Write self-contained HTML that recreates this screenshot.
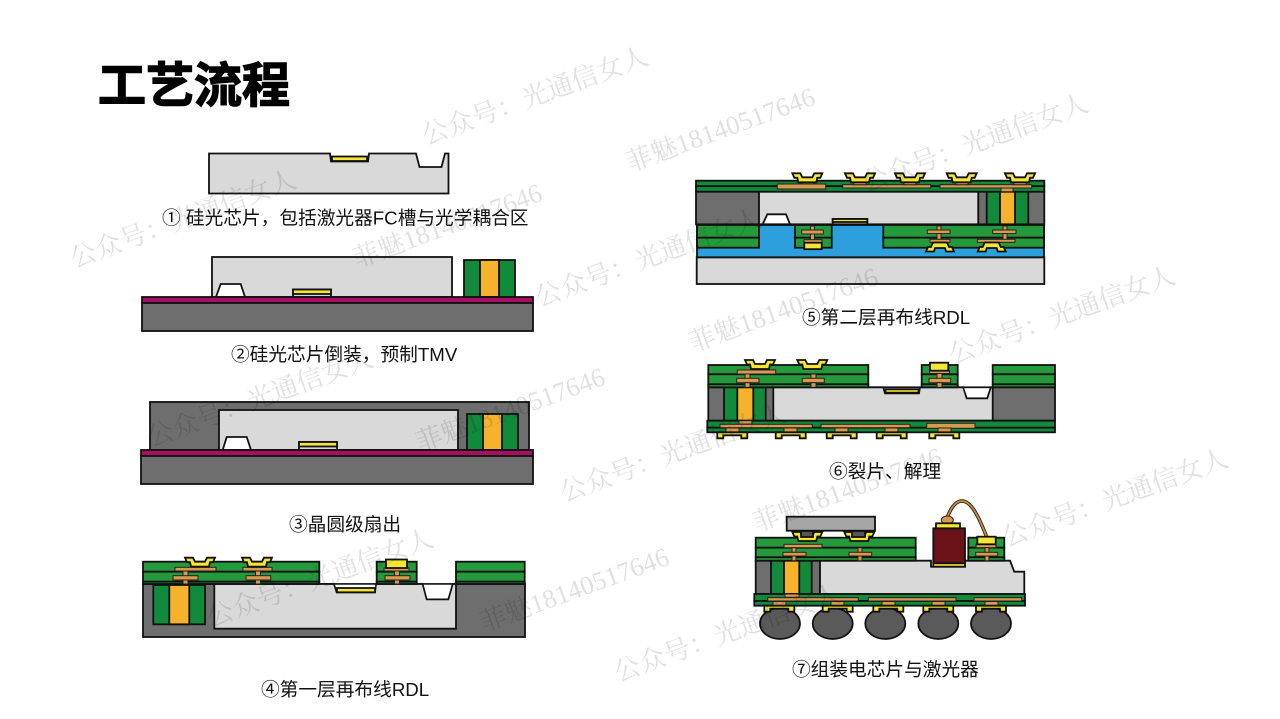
<!DOCTYPE html>
<html lang="zh"><head><meta charset="utf-8"><title>工艺流程</title>
<style>
html,body{margin:0;padding:0;background:#fff;width:1280px;height:719px;overflow:hidden}
svg{display:block}
.l{font-family:"Liberation Sans","Noto Sans CJK SC",sans-serif;font-size:18.7px;fill:#111}
.l tspan{font-size:18.7px}
.t{font-family:"Noto Sans CJK SC","Liberation Sans",sans-serif;font-size:48px;font-weight:700;fill:#000;stroke:#000;stroke-width:1.4px}
.w{font-family:"Liberation Serif","Noto Serif CJK SC",serif;font-size:26.5px;fill:#000;fill-opacity:.12}
.k{stroke:#111;stroke-width:1.8;stroke-linejoin:miter}
.chip{fill:#d9d9d9}.mold{fill:#6e6e6e}.gr{fill:#259a3c}.tg{fill:#118a3c}.au{fill:#f7b22d}.pk{fill:#a80f62}.ye{fill:#f5e632}.or{fill:#d89a4c;stroke:#222;stroke-width:1}.bl{fill:#2c9fdc}
</style></head><body>
<svg width="1280" height="719" viewBox="0 0 1280 719" xmlns="http://www.w3.org/2000/svg">
<defs>
<g id="u"><path class="ye k" d="M-15 0H-7L-5 4H5L7 0H15L13 4.5H10L9 9H-9L-10 4.5H-13Z"/></g>
<g id="d"><path class="ye k" d="M-7 0H7L9 4.5H12L14 9H6L5 5.5H-5L-6 9H-14L-12 4.5H-9Z"/></g>
<g id="dn"><path class="ye k" d="M-15 0H15V6H9V3H-9V6H-15Z"/></g>
</defs>

<rect width="1280" height="719" fill="#fff"/>

<!-- diagram 1 -->
<path class="chip k" d="M209 153.5H330L331 161.5H368L369 153.5H416L419.5 167H441.5L445 153.5H448.5V193.5H209Z"/>
<rect class="ye k" x="332" y="156.5" width="35" height="4.5"/>

<!-- diagram 2 -->
<rect class="chip k" x="212" y="257" width="240" height="40"/>
<path fill="#fff" class="k" d="M216 297L220.7 284H240.7L245 297Z"/>
<rect class="chip k" x="293" y="289.5" width="38" height="7.5"/>
<rect class="ye k" x="293" y="289.5" width="38" height="4.5"/>
<rect class="tg k" x="464" y="260" width="51" height="37"/>
<rect class="au k" x="480" y="260" width="19" height="37"/>
<rect class="pk k" x="142" y="297" width="391" height="6"/>
<rect class="mold k" x="142" y="303" width="391" height="28"/>

<!-- diagram 3 -->
<rect class="mold k" x="150" y="402" width="379" height="48"/>
<rect class="chip k" x="219" y="410" width="239" height="40"/>
<path fill="#fff" class="k" d="M222.7 450L226.7 437H246.7L251 450Z"/>
<rect class="chip k" x="299" y="442" width="38" height="8"/>
<rect class="ye k" x="299" y="442" width="38" height="4.5"/>
<rect class="tg k" x="467" y="414" width="51" height="36"/>
<rect class="au k" x="483" y="414" width="19" height="36"/>
<rect class="pk k" x="141" y="450" width="392" height="6"/>
<rect class="mold k" x="141" y="456" width="392" height="28"/>

<!-- diagram 4 -->
<rect class="mold k" x="143" y="584" width="382" height="53"/>
<path class="chip k" d="M214.3 584H334L336.7 592.3H375L376 584H422.7L426.7 599.3H448.3L452.7 584H456V628.7H214.3Z"/>
<path fill="#fff" d="M335 584.8L337.5 591.5H374.5L375.3 584.8Z"/>
<path fill="#fff" d="M423.7 584.8L427.4 598.5H447.6L451.6 584.8Z"/>
<rect class="ye k" x="337" y="588" width="38" height="4.3"/>
<rect class="tg k" x="153.3" y="585" width="51.7" height="39.3"/>
<rect class="au k" x="169.3" y="585" width="20" height="39.3"/>
<rect class="gr k" x="143" y="561.7" width="176.3" height="10"/><rect class="gr k" x="143" y="571.7" width="176.3" height="10"/><rect class="gr k" x="143" y="581.7" width="176.3" height="2.3"/>
<rect class="gr k" x="376.7" y="561.7" width="40" height="10"/><rect class="gr k" x="376.7" y="571.7" width="40" height="10"/><rect class="gr k" x="376.7" y="581.7" width="40" height="2.3"/>
<rect class="gr k" x="456" y="561.7" width="68.7" height="10"/><rect class="gr k" x="456" y="571.7" width="68.7" height="10"/><rect class="gr k" x="456" y="581.7" width="68.7" height="2.3"/>
<rect class="or" x="175" y="567.3" width="41" height="3.7"/><rect class="or" x="183" y="571" width="5" height="5"/><rect class="or" x="173" y="575.7" width="25" height="4.3"/><rect class="or" x="183" y="580" width="5" height="4"/>
<rect class="or" x="243" y="567.3" width="29" height="3.7"/><rect class="or" x="255.5" y="571" width="5" height="5"/><rect class="or" x="246" y="575.7" width="24.7" height="4.3"/><rect class="or" x="255.5" y="580" width="5" height="4"/>
<rect class="or" x="384" y="568" width="25" height="3"/><rect class="or" x="394.5" y="571" width="5" height="5"/><rect class="or" x="385" y="575.7" width="25" height="4.3"/><rect class="or" x="394.5" y="580" width="5" height="4"/>
<use href="#u" x="200" y="557.7"/><use href="#u" x="257" y="557.7"/>
<rect class="ye k" x="386" y="559.5" width="21" height="8.5"/>

<!-- diagram 5 -->
<rect class="chip k" x="696.7" y="257.3" width="347.6" height="26.7"/>
<rect class="bl k" x="697" y="225" width="347" height="32.3"/>
<rect class="gr k" x="697" y="225" width="62" height="12.7"/><rect class="gr k" x="697" y="237.7" width="62" height="10"/>
<rect class="gr k" x="795" y="225" width="36.7" height="12.7"/><rect class="gr k" x="795" y="237.7" width="36.7" height="10"/>
<rect class="gr k" x="883.3" y="225" width="160.7" height="12.7"/><rect class="gr k" x="883.3" y="237.7" width="160.7" height="10"/>
<rect class="mold k" x="696" y="191.7" width="63" height="32.6"/>
<rect class="chip k" x="759" y="191.7" width="219.3" height="32.6"/>
<rect class="mold k" x="978.3" y="191.7" width="66" height="32.6"/>
<rect class="tg k" x="986.7" y="191.7" width="41.6" height="32.6"/>
<rect class="au k" x="1000" y="191.7" width="15" height="32.6"/>
<rect class="tg k" x="696" y="180.7" width="348.3" height="5.5"/><rect class="tg k" x="696" y="186.2" width="348.3" height="5.5"/>
<path fill="#fff" class="k" d="M762.7 224.3L767.3 214.3H786L790 224.3Z"/>
<rect class="chip k" x="832.7" y="219" width="34.6" height="5.3"/><rect class="ye k" x="832.7" y="219" width="34.6" height="3"/>
<rect class="or" x="777.3" y="184" width="48.4" height="5"/><rect class="or" x="842.7" y="184.7" width="88" height="3.3"/><rect class="or" x="940" y="184.7" width="91.7" height="3.3"/>
<rect class="or" x="1001" y="188" width="12" height="3.7"/>
<rect class="or" x="802" y="180.5" width="12" height="3.5"/><rect class="or" x="854" y="180.5" width="12" height="4.2"/><rect class="or" x="904" y="180.5" width="12" height="4.2"/><rect class="or" x="956" y="180.5" width="12" height="4.2"/><rect class="or" x="1014" y="180.5" width="12" height="4.2"/>
<use href="#u" x="807.3" y="173.3"/><use href="#u" x="860" y="173.3"/><use href="#u" x="910" y="173.3"/><use href="#u" x="961.7" y="173.3"/><use href="#u" x="1020" y="173.3"/>
<rect class="or" x="801.7" y="230" width="21.6" height="4"/><rect class="or" x="810.5" y="226" width="4" height="4"/><rect class="or" x="810.5" y="234" width="4" height="6"/><rect class="or" x="804" y="239.7" width="18" height="3"/>
<rect class="ye k" x="804.3" y="242.7" width="17.4" height="6.5"/>
<rect class="or" x="927.3" y="230" width="22.7" height="3.6"/><rect class="or" x="937" y="226" width="4" height="4"/><rect class="or" x="937" y="233.6" width="4" height="6"/><rect class="or" x="930" y="239.3" width="20" height="3"/>
<rect class="or" x="992.7" y="230" width="23.3" height="3.6"/><rect class="or" x="1003" y="226" width="4" height="4"/><rect class="or" x="1003" y="233.6" width="4" height="6"/><rect class="or" x="977.3" y="239.3" width="37.7" height="3"/>
<use href="#d" x="940" y="242.5"/><use href="#d" x="991.7" y="242.5"/>

<!-- diagram 6 -->
<rect class="mold k" x="708.3" y="387.3" width="346.7" height="33.4"/>
<path class="chip k" d="M773.3 387.3H883.3L885 393.3H919L920 387.3H963.3L966.7 398.3H987.3L990.7 387.3H992.7V420.7H773.3Z"/>
<path fill="#fff" d="M884.2 388.2L885.7 392.4H918.2L919 388.2Z"/>
<path fill="#fff" d="M964.2 388.2L967.4 397.4H986.6L989.6 388.2Z"/>
<rect class="ye k" x="885.5" y="389.3" width="33" height="3.4"/>
<rect class="tg k" x="724" y="387.3" width="41.7" height="33.4"/><rect class="au k" x="737.3" y="387.3" width="16" height="33.4"/>
<rect class="gr k" x="708.3" y="365" width="160" height="9.3"/><rect class="gr k" x="708.3" y="374.3" width="160" height="10"/><rect class="gr k" x="708.3" y="384.3" width="160" height="3"/>
<rect class="gr k" x="921.7" y="365" width="36" height="9.3"/><rect class="gr k" x="921.7" y="374.3" width="36" height="10"/><rect class="gr k" x="921.7" y="384.3" width="36" height="3"/>
<rect class="gr k" x="992.7" y="365" width="62.3" height="9.3"/><rect class="gr k" x="992.7" y="374.3" width="62.3" height="10"/><rect class="gr k" x="992.7" y="384.3" width="62.3" height="3"/>
<rect class="tg k" x="707.3" y="420.7" width="347.7" height="7"/><rect class="tg k" x="707.3" y="427.7" width="347.7" height="4.6"/>
<rect class="or" x="739" y="420.7" width="13" height="3.3"/>
<rect class="or" x="720" y="424.3" width="92.3" height="3.4"/><rect class="or" x="821" y="424.3" width="89" height="3.4"/><rect class="or" x="926.7" y="423.3" width="48.3" height="5"/>
<rect class="or" x="726" y="428" width="13" height="4"/><rect class="or" x="784" y="428" width="13" height="4"/><rect class="or" x="835" y="428" width="13" height="4"/><rect class="or" x="885" y="428" width="13" height="4"/><rect class="or" x="938" y="428" width="13" height="4"/>
<use href="#dn" x="732.3" y="432.3"/><use href="#dn" x="790.7" y="432.3"/><use href="#dn" x="841.7" y="432.3"/><use href="#dn" x="891.7" y="432.3"/><use href="#dn" x="944.3" y="432.3"/>
<rect class="or" x="737.3" y="370" width="38.4" height="4"/><rect class="or" x="745" y="374" width="5" height="4.5"/><rect class="or" x="736.7" y="378.3" width="22.3" height="4.4"/><rect class="or" x="745" y="382.7" width="5" height="4.6"/>
<rect class="or" x="811" y="374" width="5" height="4.5"/><rect class="or" x="802.3" y="378.3" width="22" height="4.4"/><rect class="or" x="811" y="382.7" width="5" height="4.6"/>
<rect class="or" x="929.5" y="370.7" width="20" height="2.8"/><rect class="or" x="937" y="373.5" width="5" height="5"/><rect class="or" x="929" y="378.3" width="21.7" height="4.4"/><rect class="or" x="937" y="382.7" width="5" height="4.6"/>
<use href="#u" x="760" y="360"/><use href="#u" x="812.3" y="360"/>
<rect class="ye k" x="930" y="362.7" width="18.3" height="8"/>

<!-- diagram 7 -->
<path d="M947 518C950 510 955 501 962 501C972 501 980 520 986.7 537" fill="none" stroke="#222" stroke-width="3.6"/>
<path d="M947 518C950 510 955 501 962 501C972 501 980 520 986.7 537" fill="none" stroke="#c98b3e" stroke-width="1.8"/>
<ellipse cx="947.3" cy="520" rx="6" ry="4" fill="#d89a4c" stroke="#222" stroke-width="1"/>
<rect x="786.7" y="516.7" width="88.3" height="14" fill="#a6a6a6" class="k"/>
<rect class="mold k" x="755.7" y="560.7" width="64.3" height="33.3"/>
<rect class="tg k" x="771" y="560.7" width="40.7" height="33.3"/><rect class="au k" x="784" y="560.7" width="15.3" height="33.3"/>
<path class="chip k" d="M820 560.7H931V566.7H965V560.7H1010L1014.3 571.7H1024.3V594H820Z"/>
<rect class="gr k" x="755.7" y="537.7" width="160" height="10"/><rect class="gr k" x="755.7" y="547.7" width="160" height="9.6"/><rect class="gr k" x="755.7" y="557.3" width="160" height="3.4"/>
<rect class="gr k" x="968.3" y="537.7" width="36" height="10"/><rect class="gr k" x="968.3" y="547.7" width="36" height="9.6"/><rect class="gr k" x="968.3" y="557.3" width="36" height="3.4"/>
<rect x="933.3" y="528.3" width="31.7" height="35" fill="#6b1219" class="k"/>
<rect class="ye k" x="936" y="523.3" width="24" height="5"/>
<rect class="ye k" x="933.3" y="563.3" width="31.7" height="3.4"/>
<rect class="or" x="784" y="544.3" width="38" height="3.4"/><rect class="or" x="792" y="547.7" width="4" height="4.6"/><rect class="or" x="783" y="552.3" width="23" height="3.7"/><rect class="or" x="792" y="556" width="4" height="4.7"/>
<rect class="or" x="858" y="547.7" width="4" height="4.6"/><rect class="or" x="849" y="552.3" width="22.7" height="3.7"/><rect class="or" x="858" y="556" width="4" height="4.7"/>
<rect class="or" x="976" y="544.3" width="20" height="3.4"/><rect class="or" x="985" y="547.7" width="4" height="4.6"/><rect class="or" x="975.7" y="552.3" width="22" height="3.7"/><rect class="or" x="985" y="556" width="4" height="4.7"/>
<use href="#u" x="807.3" y="532"/><use href="#u" x="859.3" y="532"/>
<rect x="801" y="531" width="12" height="6" fill="#555" class="k"/><rect x="852" y="531" width="13" height="6" fill="#555" class="k"/>
<rect class="ye k" x="977.3" y="536.7" width="18.4" height="7.6"/>
<rect class="tg k" x="754.3" y="594" width="270.7" height="7"/><rect class="tg k" x="754.3" y="601" width="270.7" height="4.7"/>
<rect class="or" x="785" y="594" width="14" height="3.3"/>
<rect class="or" x="767.7" y="597.7" width="90.6" height="3.3"/><rect class="or" x="868.3" y="597.7" width="87.7" height="3.3"/><rect class="or" x="974" y="597.7" width="47.7" height="3.3"/>
<rect class="or" x="773" y="601.5" width="13" height="4"/><rect class="or" x="831" y="601.5" width="13" height="4"/><rect class="or" x="882" y="601.5" width="13" height="4"/><rect class="or" x="932" y="601.5" width="13" height="4"/><rect class="or" x="985" y="601.5" width="13" height="4"/>
<g fill="#5a5a5a" class="k">
<ellipse cx="780" cy="623.5" rx="20" ry="15.5"/><ellipse cx="832.7" cy="623.5" rx="20" ry="15.5"/><ellipse cx="885.3" cy="623.5" rx="20" ry="15.5"/><ellipse cx="938.3" cy="623.5" rx="20" ry="15.5"/><ellipse cx="991" cy="623.5" rx="20" ry="15.5"/>
</g>
<use href="#dn" x="779.3" y="605.7"/><use href="#dn" x="837.7" y="605.7"/><use href="#dn" x="888.3" y="605.7"/><use href="#dn" x="938.3" y="605.7"/><use href="#dn" x="991" y="605.7"/>

<!-- labels -->
<text class="t" x="98" y="102" textLength="192" lengthAdjust="spacing">工艺流程</text>
<text class="l" x="162" y="224.5">① 硅光芯片，包括激光器<tspan>FC</tspan>槽与光学耦合区</text>
<text class="l" x="231" y="361">②硅光芯片倒装，预制<tspan>TMV</tspan></text>
<text class="l" x="289" y="531">③晶圆级扇出</text>
<text class="l" x="261" y="696">④第一层再布线<tspan>RDL</tspan></text>
<text class="l" x="802" y="324">⑤第二层再布线<tspan>RDL</tspan></text>
<text class="l" x="829" y="478">⑥裂片、解理</text>
<text class="l" x="792" y="676">⑦组装电芯片与激光器</text>

<!-- watermarks -->
<g class="w" transform="translate(2,0)">
<text transform="translate(424,145) rotate(-20)">公众号：光通信女人</text>
<text transform="translate(72,268) rotate(-20)">公众号：光通信女人</text>
<text transform="translate(537,307) rotate(-20)">公众号：光通信女人</text>
<text transform="translate(864,192) rotate(-20)">公众号：光通信女人</text>
<text transform="translate(951,364) rotate(-20)">公众号：光通信女人</text>
<text transform="translate(149,447) rotate(-20)">公众号：光通信女人</text>
<text transform="translate(562,502) rotate(-20)">公众号：光通信女人</text>
<text transform="translate(1004,547) rotate(-20)">公众号：光通信女人</text>
<text transform="translate(209,627) rotate(-20)">公众号：光通信女人</text>
<text transform="translate(616,682) rotate(-20)">公众号：光通信女人</text>
<text transform="translate(628,172) rotate(-20)">菲魅18140517646</text>
<text transform="translate(355,268) rotate(-20)">菲魅18140517646</text>
<text transform="translate(691,352) rotate(-20)">菲魅18140517646</text>
<text transform="translate(418,452) rotate(-20)">菲魅18140517646</text>
<text transform="translate(755,532) rotate(-20)">菲魅18140517646</text>
<text transform="translate(482,632) rotate(-20)">菲魅18140517646</text>
</g>
</svg>
</body></html>
